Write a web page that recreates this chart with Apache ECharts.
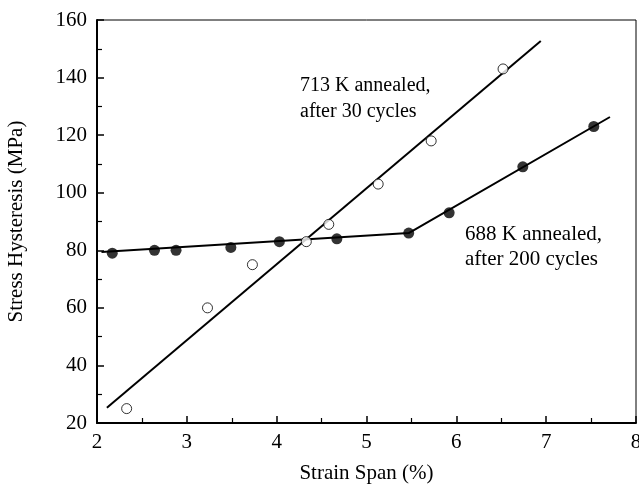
<!DOCTYPE html>
<html><head><meta charset="utf-8">
<script src="https://cdn.jsdelivr.net/npm/echarts@6/dist/echarts.min.js"></script>
<style>html,body{margin:0;padding:0;background:#fff}#c{width:639px;height:487px}</style>
</head><body><div id="c"></div>
<script>
// 713 K annealed, after 30 cycles (open circles)
const open713 = [[2.33,25],[3.23,60],[3.73,75],[4.33,83],[4.58,89],[5.13,103],[5.72,118],[6.52,143]];
const fit713 = [[2.11,25.3],[6.94,152.7]];
// 688 K annealed, after 200 cycles (filled circles)
const filled688 = [[2.17,79],[2.64,80],[2.88,80],[3.49,81],[4.03,83],[4.67,84],[5.47,86],[5.92,93],[6.74,109],[7.53,123]];
const fit688 = [[2.05,79.4],[5.47,86],[7.71,126.3]];
const xTicks = [2,3,4,5,6,7,8];
const yTicks = [20,40,60,80,100,120,140,160];
const label713 = ['713 K annealed,','after 30 cycles'];
const label688 = ['688 K annealed,','after 200 cycles'];

const FONT = 'Liberation Serif';
const chart = echarts.init(document.getElementById('c'));
chart.setOption({
  backgroundColor:'#fff',
  animation:false,
  grid:{left:97,right:3,top:20,bottom:64,show:true,borderColor:'#000',borderWidth:1,
    outerBoundsMode:'none',containLabel:false},
  xAxis:{type:'value',min:xTicks[0],max:xTicks[xTicks.length-1],interval:1,
    name:'Strain Span (%)',nameLocation:'middle',nameGap:40,
    nameTextStyle:{fontFamily:FONT,fontSize:21,color:'#000'},
    axisLine:{lineStyle:{color:'#000',width:2}},
    axisTick:{inside:true,length:7,lineStyle:{color:'#000',width:1.5}},
    minorTick:{show:true,splitNumber:2,length:5,lineStyle:{color:'#000',width:1.2}},
    axisLabel:{fontFamily:FONT,fontSize:21,color:'#000',margin:9},
    splitLine:{show:false}},
  yAxis:{type:'value',min:yTicks[0],max:yTicks[yTicks.length-1],interval:20,
    name:'Stress Hysteresis (MPa)',nameLocation:'middle',nameGap:70,
    nameTextStyle:{fontFamily:FONT,fontSize:21,color:'#000'},
    axisLine:{lineStyle:{color:'#000',width:2}},
    axisTick:{inside:true,length:7,lineStyle:{color:'#000',width:1.5}},
    minorTick:{show:true,splitNumber:2,length:5,lineStyle:{color:'#000',width:1.2}},
    axisLabel:{fontFamily:FONT,fontSize:21,color:'#000',margin:10},
    splitLine:{show:false}},
  series:[
    {type:'line',data:fit713,symbol:'none',lineStyle:{color:'#000',width:2},z:2},
    {type:'line',data:fit688,symbol:'none',lineStyle:{color:'#000',width:2},z:2},
    {type:'scatter',data:open713,symbol:'circle',symbolSize:10,
      itemStyle:{color:'#fff',borderColor:'#000',borderWidth:1},z:3},
    {type:'scatter',data:filled688,symbol:'circle',symbolSize:11,
      itemStyle:{color:'#000'},z:3}
  ],
  graphic:[
    {type:'text',left:300,top:73,style:{text:label713.join('\n'),fontFamily:FONT,fontSize:20,lineHeight:26,fill:'#000'}},
    {type:'text',left:465,top:222,style:{text:label688.join('\n'),fontFamily:FONT,fontSize:21,lineHeight:25,fill:'#000'}}
  ]
});
</script></body></html>
